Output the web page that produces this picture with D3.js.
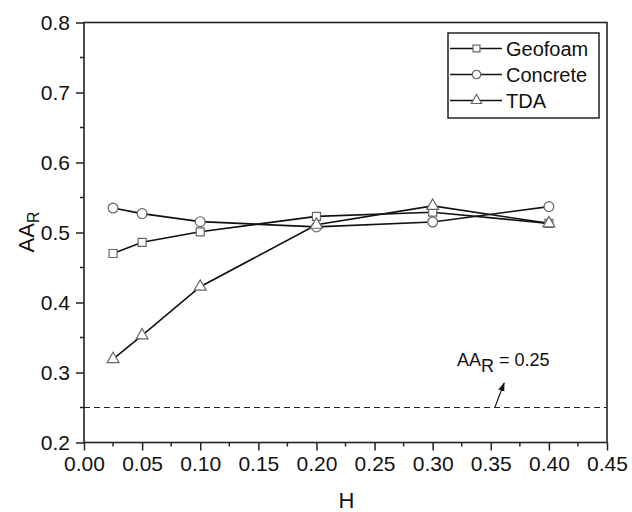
<!DOCTYPE html>
<html>
<head>
<meta charset="utf-8">
<script src="https://cdn.jsdelivr.net/npm/d3@7"></script>
<style>
body { margin: 0; background: #fff; }
text { font-family: "Liberation Sans", Arial, sans-serif; fill: #111; }
</style>
</head>
<body>
<script>
var hValues = [0.025, 0.05, 0.10, 0.20, 0.30, 0.40];
var geofoam = [0.470, 0.486, 0.501, 0.523, 0.529, 0.513];
var concrete = [0.535, 0.527, 0.5155, 0.508, 0.515, 0.537];
var tda = [0.319, 0.353, 0.4225, 0.511, 0.538, 0.513];
var seriesNames = ["Geofoam", "Concrete", "TDA"];
var xTicks = [0, 0.05, 0.10, 0.15, 0.20, 0.25, 0.30, 0.35, 0.40, 0.45];
var yTicks = [0.2, 0.3, 0.4, 0.5, 0.6, 0.7, 0.8];
var refValue = 0.25;

var w = 632, h = 512;
var pLeft = 84, pRight = 607, pTop = 22.5, pBottom = 442.5;

var svg = d3.select("body").append("svg")
	.attr("width", w)
	.attr("height", h);

var xScale = d3.scaleLinear().domain([0, 0.45]).range([pLeft, pRight]);
var yScale = d3.scaleLinear().domain([0.2, 0.8]).range([pBottom, pTop]);

// frame
svg.append("rect")
	.attr("x", pLeft).attr("y", pTop)
	.attr("width", pRight - pLeft).attr("height", pBottom - pTop)
	.attr("fill", "none").attr("stroke", "#222").attr("stroke-width", 1.6);

// minor ticks
var xMinor = d3.range(0.025, 0.45, 0.05);
var yMinor = d3.range(0.25, 0.8, 0.1);
svg.selectAll(".xminor").data(xMinor).enter().append("line")
	.attr("x1", d => xScale(d)).attr("x2", d => xScale(d))
	.attr("y1", pBottom).attr("y2", pBottom + 4)
	.attr("stroke", "#222").attr("stroke-width", 1.5);
svg.selectAll(".yminor").data(yMinor).enter().append("line")
	.attr("x1", pLeft - 4).attr("x2", pLeft)
	.attr("y1", d => yScale(d)).attr("y2", d => yScale(d))
	.attr("stroke", "#222").attr("stroke-width", 1.5);

var xAxis = d3.axisBottom(xScale).tickValues(xTicks).tickFormat(d3.format(".2f")).tickSize(8).tickPadding(6);
var yAxis = d3.axisLeft(yScale).tickValues(yTicks).tickFormat(d3.format(".1f")).tickSize(8).tickPadding(6);

var gx = svg.append("g").attr("transform", "translate(0," + pBottom + ")").call(xAxis);
var gy = svg.append("g").attr("transform", "translate(" + pLeft + ",0)").call(yAxis);
[gx, gy].forEach(function(g){
	g.attr("font-size", 21).attr("font-family", "'Liberation Sans', Arial, sans-serif");
	g.select(".domain").remove();
	g.selectAll("line").attr("stroke", "#222").attr("stroke-width", 1.5);
	g.selectAll("text").attr("fill", "#111");
});

// reference line
svg.append("line")
	.attr("x1", pLeft).attr("x2", pRight)
	.attr("y1", yScale(refValue)).attr("y2", yScale(refValue))
	.attr("stroke", "#222").attr("stroke-width", 1.2)
	.attr("stroke-dasharray", "6,4");

// annotation arrow
svg.append("defs").append("marker")
	.attr("id", "arr").attr("viewBox", "0 0 10 10")
	.attr("refX", 9).attr("refY", 5)
	.attr("markerWidth", 9).attr("markerHeight", 9)
	.attr("markerUnits", "userSpaceOnUse")
	.attr("orient", "auto")
	.append("path").attr("d", "M0,1.5 L10,5 L0,8.5 Z").attr("fill", "#111");
svg.append("line")
	.attr("x1", xScale(0.3535)).attr("y1", yScale(refValue))
	.attr("x2", xScale(0.3615)).attr("y2", yScale(0.285))
	.attr("stroke", "#111").attr("stroke-width", 1.1)
	.attr("marker-end", "url(#arr)");

var ann = svg.append("text")
	.attr("x", 457).attr("y", yScale(0.31))
	.attr("font-size", 18);
ann.append("tspan").text("AA");
ann.append("tspan").attr("dy", 6).text("R");
ann.append("tspan").attr("dy", -6).text(" = 0.25");

// series
var series = [
	{name: seriesNames[0], values: geofoam, sym: d3.symbolSquare, size: 64},
	{name: seriesNames[1], values: concrete, sym: d3.symbolCircle, size: 75},
	{name: seriesNames[2], values: tda, sym: d3.symbolTriangle, size: 62}
];

var line = d3.line()
	.x((d, i) => xScale(hValues[i]))
	.y(d => yScale(d));

series.forEach(function(s){
	svg.append("path")
		.attr("d", line(s.values))
		.attr("fill", "none").attr("stroke", "#111").attr("stroke-width", 1.6);
});
series.forEach(function(s){
	var sym = d3.symbol().type(s.sym).size(s.size);
	svg.selectAll(null).data(s.values).enter().append("path")
		.attr("d", sym)
		.attr("transform", (d, i) => "translate(" + xScale(hValues[i]) + "," + yScale(d) + ")")
		.attr("fill", "#fff").attr("stroke", "#666").attr("stroke-width", 1.2);
});

// legend
var lg = svg.append("g");
lg.append("rect")
	.attr("x", 448).attr("y", 33).attr("width", 151).attr("height", 85)
	.attr("fill", "#fff").attr("stroke", "#222").attr("stroke-width", 1.5);
series.forEach(function(s, i){
	var y = 48.5 + i * 26;
	lg.append("line").attr("x1", 450).attr("x2", 502).attr("y1", y).attr("y2", y)
		.attr("stroke", "#111").attr("stroke-width", 1.5);
	lg.append("path").attr("d", d3.symbol().type(s.sym).size(s.size * 0.75))
		.attr("transform", "translate(476.5," + y + ")")
		.attr("fill", "#fff").attr("stroke", "#666").attr("stroke-width", 1.2);
	lg.append("text").attr("x", 506).attr("y", y + 7)
		.attr("font-size", 20).text(s.name);
});

// axis titles
svg.append("text")
	.attr("x", (pLeft + pRight) / 2 + 1).attr("y", 508)
	.attr("text-anchor", "middle").attr("font-size", 22).text("H");

var yt = svg.append("text")
	.attr("transform", "translate(34,232) rotate(-90)")
	.attr("text-anchor", "middle").attr("font-size", 22);
yt.append("tspan").text("AA");
yt.append("tspan").attr("dy", 5).attr("font-size", 16).text("R");
</script>
</body>
</html>
